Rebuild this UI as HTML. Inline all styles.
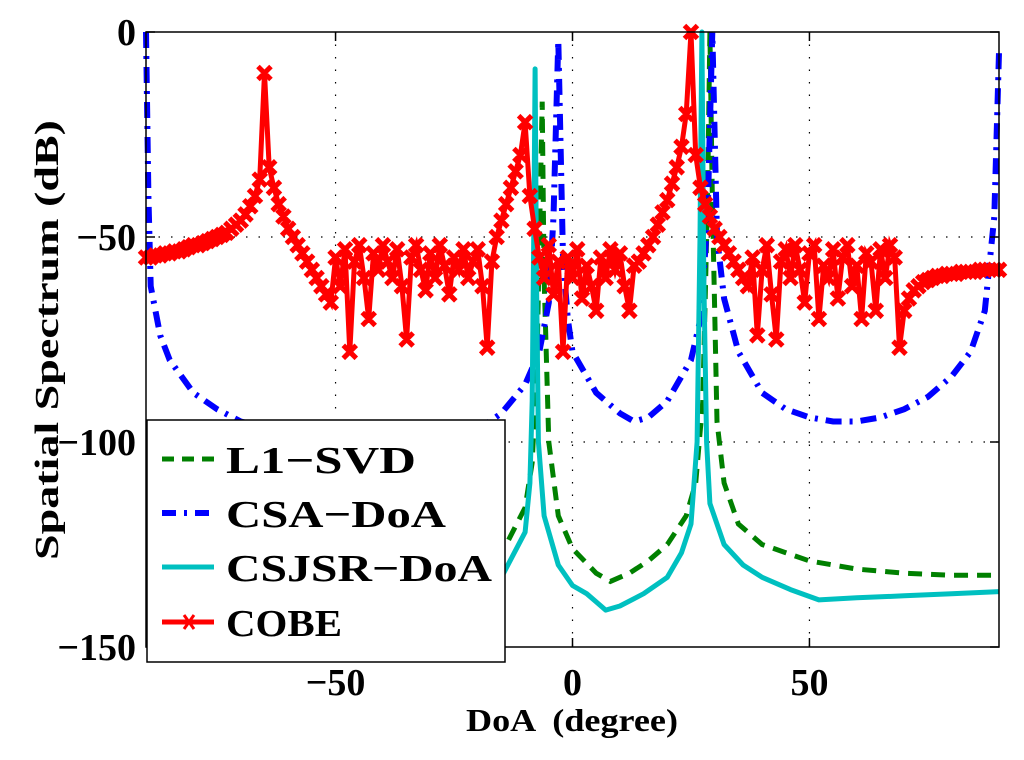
<!DOCTYPE html>
<html><head><meta charset="utf-8"><style>
html,body{margin:0;padding:0;background:#fff;}
svg{display:block;font-family:"Liberation Serif","Times New Roman",serif;font-weight:bold;}
</style></head><body>
<svg id="chart" width="1024" height="760" viewBox="0 0 1024 760" xmlns="http://www.w3.org/2000/svg">
<rect x="0" y="0" width="1024" height="760" fill="#fff"/>
<g id="grid"></g>
<g id="series"></g>
<rect x="146" y="32" width="853" height="615" fill="none" stroke="#000" stroke-width="1.5"/>
<g id="ticks"></g>
<text x="572" y="731" font-size="32" text-anchor="middle" textLength="212" lengthAdjust="spacingAndGlyphs" xml:space="preserve">DoA  (degree)</text>
<text x="0" y="0" transform="translate(58,340) rotate(-90)" font-size="34" text-anchor="middle" textLength="440" lengthAdjust="spacingAndGlyphs">Spatial Spectrum (dB)</text>
<g>
<rect x="147" y="420" width="358" height="242" fill="#fff" stroke="#000" stroke-width="1.5"/>
<g>
<line x1="162" y1="459" x2="214" y2="459" stroke="#008000" stroke-width="5" stroke-dasharray="12 8"/>
<text x="226" y="473" font-size="38" textLength="190" lengthAdjust="spacingAndGlyphs">L1−SVD</text></g>
<g>
<line x1="162" y1="513" x2="214" y2="513" stroke="#0000ff" stroke-width="6" stroke-dasharray="14 8 3 8"/>
<text x="226" y="527" font-size="38" textLength="220" lengthAdjust="spacingAndGlyphs">CSA−DoA</text></g>
<g>
<line x1="162" y1="567" x2="214" y2="567" stroke="#00c0c0" stroke-width="5"/>
<text x="226" y="581" font-size="38" textLength="266" lengthAdjust="spacingAndGlyphs">CSJSR−DoA</text></g>
<g>
<line x1="162" y1="622" x2="214" y2="622" stroke="#ff0000" stroke-width="5"/>
<path d="M184,615 L194,629 M194,615 L184,629" stroke="#ff0000" stroke-width="3"/>
<text x="226" y="636" font-size="38" textLength="116" lengthAdjust="spacingAndGlyphs">COBE</text></g>
</g>
</svg>
<script>
const xTicks=[-50,0,50];
const xTickLabels=["−50","0","50"];
const yTicks=[0,-50,-100,-150];
const yTickLabels=["0","−50","−100","−150"];
const cobeStart=-90;
const cobeValues=[-55,-55,-54.5,-54.5,-54,-54,-53.5,-53.5,-53,-52.5,-52,
-52,-51.5,-51,-50.5,-50,-49.5,-49,-48,-47,-46,
-44.5,-42.5,-40,-36,
-10,
-33,-38,-42,-45,-48,-50,-52,-54,-56,-58,-60,-62,-64,-66,
-55,-62,-53,-78,-56,-52,-60,-70,-54,-58,-52,-56,-60,-53,-62,-75,-55,-52,-58,-63,-54,-60,-52,-57,-64,-55,-58,-53,-60,-56,-53,-62,-77,-56,-50,-46,-42,-38,-34,-30,
-22,
-40,-48,-55,-60,-52,-64,-56,-78,-55,
-60,-53,-65,-57,-62,-68,-55,-60,-53,-58,-54,-62,-68,-57,
-56,-54,-52,-50,-47,-44,-41,-37,-33,-28,-20,
0,
-30,-38,-42,-45,-48,-50,-52,-54,-56,-58,-60,-62,
-55,-74,-58,-52,-64,-75,-56,-53,-60,-52,-58,-66,-54,-52,-70,-57,-60,-53,-65,-55,-52,-62,-57,-70,-54,-56,-68,-53,-60,-52,-55,
-77,
-68,-65,-63,-62,-61,-60.5,-60,-59.5,-59.5,-59,-59,-59,-58.5,-58.5,-58.5,-58.5,-58,-58,-58,-58,-58];
const csaX=[-90,-89.5,-89,-87,-85,-80,-75,-70,-60,-50,-40,-30,-20,-15,-10,-7,-5,-4,-3,-2,-1,0,5,10,13,16,20,25,27,28.5,29.5,30.5,32,35,40,45,50,55,60,65,70,75,80,84,87,89,90];
const csaY=[0,-40,-62,-74,-80,-88,-92,-95,-98,-100,-100,-99,-97,-93,-86,-78,-66,-45,-2,-55,-70,-78,-88,-93,-95,-94,-90,-80,-70,-45,0,-50,-65,-78,-88,-92,-94,-95,-95,-94,-92,-89,-84,-78,-68,-45,-5];
const l1X=[-30,-20,-14,-10,-8.5,-7.5,-6.8,-6.4,-6,-5,-3,0,5,8,12,16,20,24,26,27.5,28.5,29,29.5,30.5,32,35,40,45,50,60,70,80,90];
const l1Y=[-135,-130,-125,-116,-105,-80,-40,-17,-60,-100,-118,-126,-132,-134,-132,-129,-125,-118,-110,-90,-40,0,-40,-95,-110,-120,-125,-127,-129,-131,-132,-132.5,-132.5];
const cjX=[-30,-20,-15,-10,-9,-8.5,-8.1,-7.9,-7.6,-7.2,-6,-3,0,3,5,7,10,15,20,23,25,26.3,26.9,27.3,27.7,28.3,29,32,36,40,46,52,60,70,80,90];
const cjY=[-138,-136,-133,-122,-110,-90,-40,-9,-60,-100,-118,-130,-135,-137,-139,-141,-140,-137,-133,-127,-120,-100,-50,0,-60,-100,-115,-125,-130,-133,-136,-138.5,-138,-137.5,-137,-136.5];

const L=146,R=999,T=32,B=647;
function sx(v){return L+(v+90)/180*(R-L);}
function sy(v){return T+(0-v)/150*(B-T);}
const NS="http://www.w3.org/2000/svg";
function mk(tag,attrs,parent){const e=document.createElementNS(NS,tag);for(const k in attrs)e.setAttribute(k,attrs[k]);parent.appendChild(e);return e;}
const grid=document.getElementById('grid'),ticks=document.getElementById('ticks'),ser=document.getElementById('series'),svg=document.getElementById('chart');

xTicks.forEach((t,i)=>{
  const x=sx(t);
  const g=mk('line',{x1:x,y1:T,x2:x,y2:B,stroke:'#000','stroke-width':1.2,'stroke-dasharray':'1.5 11'},grid);
  
  
  const a=mk('line',{x1:x,y1:B,x2:x,y2:B-9,stroke:'#000','stroke-width':1.5},ticks);
  
  
  const b=mk('line',{x1:x,y1:T,x2:x,y2:T+9,stroke:'#000','stroke-width':1.5},ticks);
  
  
  const tx=mk('text',{x:x,y:695,'font-size':38,'text-anchor':'middle'},svg);
  tx.textContent=xTickLabels[i];
  
  
});
yTicks.forEach((t,i)=>{
  const y=sy(t);
  if(t!==0&&t!==-150){
    const g=mk('line',{x1:L,y1:y,x2:R,y2:y,stroke:'#000','stroke-width':1.2,'stroke-dasharray':'1.5 11'},grid);
    
    
  }
  const a=mk('line',{x1:L,y1:y,x2:L+9,y2:y,stroke:'#000','stroke-width':1.5},ticks);
  
  
  const b=mk('line',{x1:R,y1:y,x2:R-9,y2:y,stroke:'#000','stroke-width':1.5},ticks);
  
  
  const tx=mk('text',{x:136,y:y+13,'font-size':38,'text-anchor':'end'},svg);
  tx.textContent=yTickLabels[i];
  
  
});

function pathFrom(xs,ys){return xs.map((x,i)=>(i?'L':'M')+sx(x).toFixed(1)+','+sy(ys[i]).toFixed(1)).join(' ');}
const p1=mk('path',{d:pathFrom(l1X,l1Y),fill:'none',stroke:'#008000','stroke-width':5,'stroke-dasharray':'14 9'},ser);


const p2=mk('path',{d:pathFrom(csaX,csaY),fill:'none',stroke:'#0000ff','stroke-width':6,'stroke-dasharray':'16 8 3 8'},ser);


const p3=mk('path',{d:pathFrom(cjX,cjY),fill:'none',stroke:'#00c0c0','stroke-width':5,'stroke-linejoin':'round'},ser);


const cobeX=cobeValues.map((v,i)=>cobeStart+i);
const p4=mk('path',{d:pathFrom(cobeX,cobeValues),fill:'none',stroke:'#ff0000','stroke-width':5}, ser);


let md='';
cobeValues.forEach((v,i)=>{const x=sx(cobeX[i]),y=sy(v),s=6.5;md+=`M${x-s},${y-s}L${x+s},${y+s}M${x+s},${y-s}L${x-s},${y+s}`;});
const m=mk('path',{d:md,fill:'none',stroke:'#ff0000','stroke-width':5}, ser);


</script>
</body></html>
